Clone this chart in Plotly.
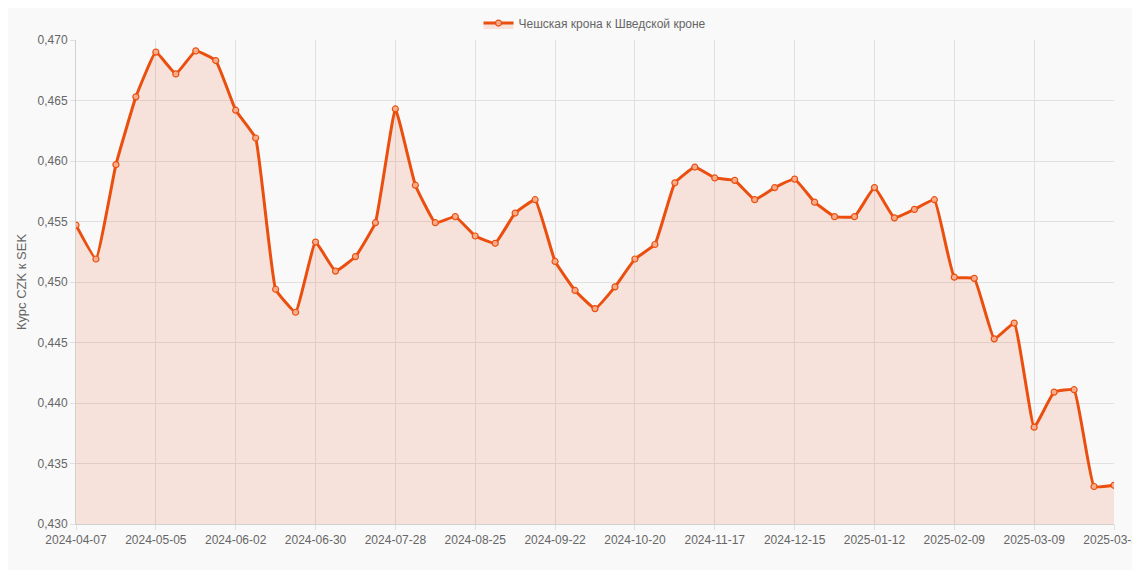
import pandas as pd
import plotly.graph_objects as go

dates = [d.strftime("%Y-%m-%d") for d in pd.date_range("2024-04-07", periods=52, freq="7D")] + ["2025-03-31"]

rates = [
    0.4547, 0.4519, 0.4597, 0.4653, 0.4690, 0.4672, 0.4691, 0.4683, 0.4642, 0.4619,
    0.4494, 0.4475, 0.4533, 0.4509, 0.4521, 0.4549, 0.4643, 0.4580, 0.4549, 0.4554,
    0.4538, 0.4532, 0.4557, 0.4568, 0.4517, 0.4493, 0.4478, 0.4496, 0.4519, 0.4531,
    0.4582, 0.4595, 0.4586, 0.4584, 0.4568, 0.4578, 0.4585, 0.4566, 0.4554, 0.4554,
    0.4578, 0.4553, 0.4560, 0.4568, 0.4504, 0.4503, 0.4453, 0.4466, 0.4380, 0.4409,
    0.4411, 0.4331, 0.4332,
]

tick_labels = dates[::4] + [dates[-1]]

color = "#ea4f0f"

fig = go.Figure(go.Scatter(
    x=dates, y=rates,
    mode="lines+markers",
    name="Чешская крона к Шведской кроне",
    line=dict(color=color, width=3, shape="spline", smoothing=0.3),
    marker=dict(size=6, color="rgba(250,180,150,0.9)", line=dict(color=color, width=1.2)),
    fill="tozeroy",
    fillcolor="rgba(234,79,15,0.13)",
))

fig.update_layout(
    width=1140, height=570,
    paper_bgcolor="#f9f9f9", plot_bgcolor="#f9f9f9",
    margin=dict(l=68, r=34, t=32, b=54, autoexpand=False),
    separators=", ",
    font=dict(family="Liberation Sans, Arial", size=12, color="#666"),
    showlegend=True,
    legend=dict(orientation="h", x=0.5, xanchor="center", y=1.035, yanchor="middle",
                font=dict(size=12, color="#666"), bgcolor="rgba(0,0,0,0)"),
    xaxis=dict(type="category", tickmode="array", tickvals=tick_labels, ticktext=tick_labels,
               showgrid=True, gridcolor="#e0e0e0", linecolor="#d0d0d0", showline=True,
               tickangle=0, ticks="outside", ticklen=5, tickcolor="#e0e0e0", range=[0, len(dates) - 1]),
    yaxis=dict(range=[0.430, 0.470], dtick=0.005, tickformat=".3f",
               showgrid=True, gridcolor="#e0e0e0", linecolor="#d0d0d0", showline=True,
               ticks="outside", ticklen=5, tickcolor="#e0e0e0",
               title=dict(text="Курс CZK к SEK", font=dict(size=13, color="#666"), standoff=8)),
)

fig.write_html("out.html")
